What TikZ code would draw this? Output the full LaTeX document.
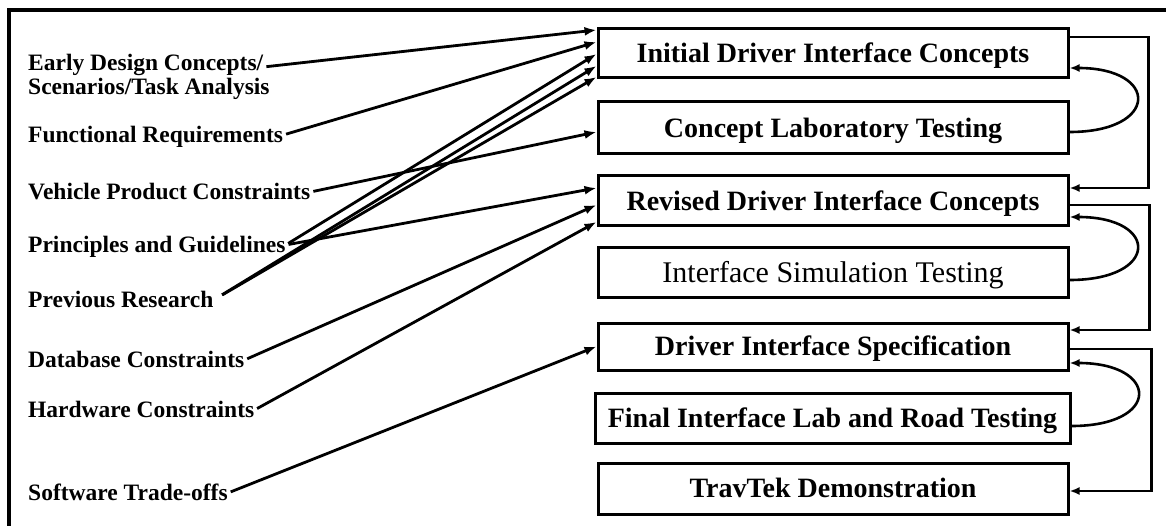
\documentclass[tikz,border=0pt]{standalone}
\usepackage{fontspec}
\setmainfont{Liberation Serif}
\usetikzlibrary{arrows.meta,calc}
\begin{document}
\begin{tikzpicture}[x=1pt,y=-1pt,
  stagebox/.style={draw,line width=3pt,minimum width=470pt,inner sep=0pt,
    font=\bfseries\fontsize{28}{30}\selectfont,text height=18.5pt,text depth=0pt},
  lbl/.style={anchor=west,inner sep=0pt,font=\bfseries\fontsize{23.5}{24}\selectfont,
    text height=15pt,text depth=0pt},
  conn/.style={line width=2.8pt,-{Latex[length=12pt,width=9pt]},shorten <=3pt},
  loopl/.style={line width=2.4pt,-{Latex[length=10pt,width=8pt]}},
  curv/.style={line width=2.6pt,-{Latex[length=10pt,width=8pt]}}
]
\fill[white] (0,0) rectangle (1166,526);
\useasboundingbox (0,0) rectangle (1166,526);
% outer frame
\draw[line width=3.5pt] (9,526) -- (9,10) -- (1166,10);

% stage boxes
\node[stagebox,minimum height=49pt] (b1) at (833,53.5) {Initial Driver Interface Concepts};
\node[stagebox,minimum height=52pt] (b2) at (833,128) {Concept Laboratory Testing};
\node[stagebox,minimum height=50pt] (b3) at (833,201) {Revised Driver Interface Concepts};
\node[stagebox,minimum height=50pt,font=\mdseries\fontsize{30}{32}\selectfont,text height=20pt] (b4) at (833,273) {Interface Simulation Testing};
\node[stagebox,minimum height=47pt] (b5) at (833,346.5) {Driver Interface Specification};
\node[stagebox,minimum height=50pt,minimum width=475pt] (b6) at (832.5,418) {Final Interface Lab and Road Testing};
\node[stagebox,minimum height=51pt] (b7) at (833,488.5) {TravTek Demonstration};

% input labels
\node[lbl] (early) at (28,63) {Early Design Concepts/};
\node[lbl] (early2) at (28,87) {Scenarios/Task Analysis};
\node[lbl] (func) at (28,135) {Functional Requirements};
\node[lbl] (veh) at (28,192) {Vehicle Product Constraints};
\node[lbl] (prin) at (28,245) {Principles and Guidelines};
\node[lbl] (prev) at (28,300) {Previous Research};
\node[lbl] (db) at (28,360) {Database Constraints};
\node[lbl] (hw) at (28,410) {Hardware Constraints};
\node[lbl] (sw) at (28,493) {Software Trade-offs};

% input connectors
\draw[conn] ([yshift=-4pt]early.east) -- ([yshift=23.5pt]b1.west);
\draw[conn] (func.east) -- ([yshift=11.5pt]b1.west);
\draw[conn] (prin.east) -- ([yshift=-0.5pt]b1.west);
\draw[conn,shorten <=10pt] (prev.east) -- ([yshift=-12.5pt]b1.west);
\draw[conn,shorten <=10pt] (prev.east) -- ([yshift=-23.5pt]b1.west);
\draw[conn] (veh.east) -- ([yshift=-4pt]b2.west);
\draw[conn] (prin.east) -- ([yshift=13pt]b3.west);
\draw[conn] (db.east) -- ([yshift=-4pt]b3.west);
\draw[conn] (hw.east) -- ([yshift=-21pt]b3.west);
\draw[conn] (sw.east) -- (b5.west);

% feedback / progression on the right
\draw[loopl] ([yshift=16.5pt]b1.east) -- ++(79,0) |- ([yshift=13pt]b3.east);
\draw[curv] ([yshift=-4pt]b2.east) .. controls +(90,0) and +(90,0) .. ([yshift=-14.5pt]b1.east);
\draw[loopl] ([yshift=-4pt]b3.east) -- ++(80,0) |- ([yshift=16.5pt]b5.east);
\draw[curv] ([yshift=-7pt]b4.east) .. controls +(90,0) and +(90,0) .. ([yshift=-16pt]b3.east);
\draw[loopl] ([yshift=-2.5pt]b5.east) -- ++(82,0) |- ([yshift=-2.5pt]b7.east);
\draw[curv] ([yshift=-8pt]b6.east) .. controls +(90,0) and +(90,0) .. ([yshift=-16.5pt]b5.east);
\end{tikzpicture}
\end{document}
